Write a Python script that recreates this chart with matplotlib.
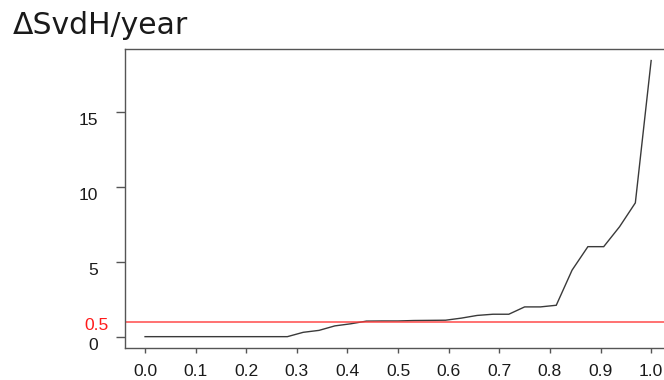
import matplotlib
matplotlib.use("Agg")
import matplotlib.pyplot as plt
import matplotlib.transforms as mtransforms

# ---- data ----
x_vals = [0.0, 0.03125, 0.0625, 0.09375, 0.125, 0.15625, 0.1875, 0.21875,
          0.25, 0.28125, 0.3125, 0.34375, 0.375, 0.40625, 0.4375, 0.46875,
          0.5, 0.53125, 0.5625, 0.59375, 0.625, 0.65625, 0.6875, 0.71875,
          0.75, 0.78125, 0.8125, 0.84375, 0.875, 0.90625, 0.9375, 0.96875, 1.0]
y_vals = [0, 0, 0, 0, 0, 0, 0, 0,
          0, 0, 0.29, 0.42, 0.72, 0.86, 1.04, 1.05,
          1.05, 1.08, 1.09, 1.10, 1.24, 1.42, 1.50, 1.50,
          1.99, 1.99, 2.10, 4.45, 6.02, 6.02, 7.35, 8.95, 18.47]
threshold_value = 1.0
threshold_label = "0.5"
x_ticks = [0.0, 0.1, 0.2, 0.3, 0.4, 0.5, 0.6, 0.7, 0.8, 0.9, 1.0]
x_tick_labels = ["0.0", "0.1", "0.2", "0.3", "0.4", "0.5", "0.6", "0.7", "0.8", "0.9", "1.0"]
y_ticks = [0, 5, 10, 15]
y_tick_labels = ["0", "5", "10", "15"]
title = "ΔSvdH/year"

W, H = 664, 380
fig = plt.figure(figsize=(W / 100, H / 100), dpi=100)
left_px, right_px, top_px, bottom_px = 124.8, 671.4, 49.5, 347.7
ax = fig.add_axes([left_px / W, 1 - bottom_px / H,
                   (right_px - left_px) / W, (bottom_px - top_px) / H])

ax.plot(x_vals, y_vals, color="#3a3a3a", lw=1.0, solid_joinstyle="miter")
ax.axhline(threshold_value, color="#ff3b3b", lw=1.2, alpha=0.85)

ax.set_xlim(-0.04, 1.04)
ymax = max(y_vals)
ax.set_ylim(-0.04 * ymax, 1.04 * ymax)

spine_c = "#555555"
for s in ax.spines.values():
    s.set_color(spine_c)
    s.set_linewidth(1.0)

tick_font = dict(family=["Liberation Sans", "DejaVu Sans"], size=12.6)
ax.set_xticks(x_ticks)
ax.set_xticklabels(x_tick_labels, **tick_font, color="#1a1a1a")
ax.set_yticks(y_ticks)
ax.set_yticklabels(y_tick_labels, **tick_font, color="#1a1a1a")
ax.tick_params(axis="x", length=3.6, width=1.0, color=spine_c, pad=8.0)
ax.tick_params(axis="y", length=6.5, width=1.0, color=spine_c, pad=12.5)

# shift y tick labels slightly downward as in reference
offset = mtransforms.ScaledTranslation(0, -5 / 72, fig.dpi_scale_trans)
for lab in ax.get_yticklabels():
    lab.set_transform(lab.get_transform() + offset)

# red label for the threshold line
trans = mtransforms.blended_transform_factory(ax.transAxes, ax.transData)
lab_off = mtransforms.ScaledTranslation(-15.8 / 100, -2.5 / 100, fig.dpi_scale_trans)
ax.text(0, threshold_value, threshold_label, transform=trans + lab_off,
        ha="right", va="center_baseline", color="#ff1a1a", **tick_font)

fig.text(12.7 / W, 1 - 34.5 / H, title, family="DejaVu Sans", size=21.5,
         color="#1a1a1a", ha="left", va="baseline")

fig.savefig("out.png", dpi=100)
